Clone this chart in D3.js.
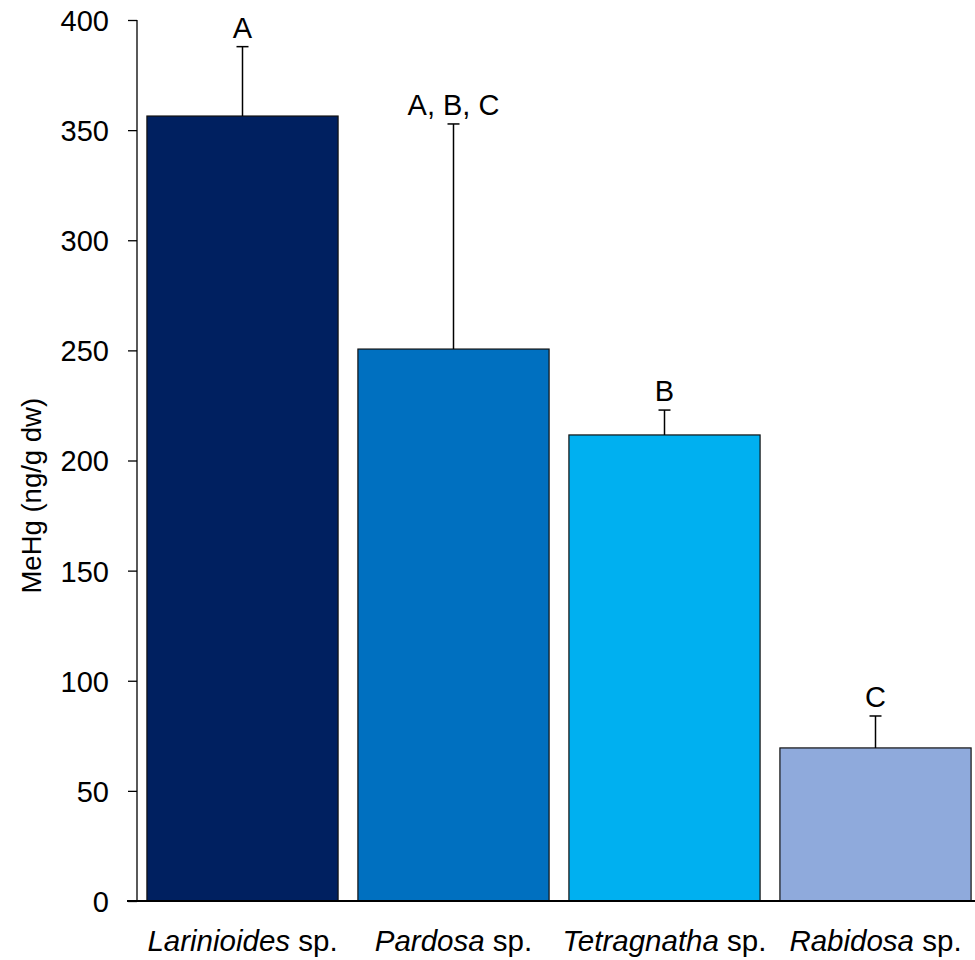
<!DOCTYPE html>
<html>
<head>
<meta charset="utf-8">
<script src="https://cdn.jsdelivr.net/npm/d3@7"></script>
<style>
  body { margin: 0; background: #fff; }
  svg { display: block; font-family: "Liberation Sans", Arial, sans-serif; }
</style>
</head>
<body>
<svg id="chart" width="975" height="960"></svg>
<script>
// species names (italic part) and values
const genus = ["Larinioides", "Pardosa", "Tetragnatha", "Rabidosa"];
const meanMeHg = [356.4, 250.6, 211.6, 69.5];
const errUpper = [387.9, 352.8, 222.9, 84.0];
const groups = ["A", "A, B, C", "B", "C"];
const barColors = ["#002060", "#0070C0", "#00B0F0", "#8FAADC"];
const yTicks = [0, 50, 100, 150, 200, 250, 300, 350, 400];

const svg = d3.select("#chart"),
  margin = { top: 20, right: -6, bottom: 59, left: 137 },
  width = +svg.attr("width"),
  height = +svg.attr("height");

const x = d3
  .scaleBand()
  .domain(genus)
  .range([margin.left, width - margin.right])
  .paddingInner(0.094)
  .paddingOuter(0.047);

const y = d3
  .scaleLinear()
  .domain([0, 400])
  .range([height - margin.bottom, margin.top]);

// bars
svg
  .selectAll("rect.bar")
  .data(genus)
  .join("rect")
  .attr("class", "bar")
  .attr("x", d => x(d))
  .attr("y", (d, i) => y(meanMeHg[i]))
  .attr("width", x.bandwidth())
  .attr("height", (d, i) => y(0) - y(meanMeHg[i]))
  .attr("fill", (d, i) => barColors[i])
  .attr("stroke", "#111")
  .attr("stroke-width", 1.2);

// upper error bars
const err = svg.append("g").attr("stroke", "#000").attr("stroke-width", 1.5);
err
  .selectAll("line.stem")
  .data(genus)
  .join("line")
  .attr("class", "stem")
  .attr("x1", d => x(d) + x.bandwidth() / 2)
  .attr("x2", d => x(d) + x.bandwidth() / 2)
  .attr("y1", (d, i) => y(meanMeHg[i]))
  .attr("y2", (d, i) => y(errUpper[i]));
err
  .selectAll("line.cap")
  .data(genus)
  .join("line")
  .attr("class", "cap")
  .attr("x1", d => x(d) + x.bandwidth() / 2 - 6)
  .attr("x2", d => x(d) + x.bandwidth() / 2 + 6)
  .attr("y1", (d, i) => y(errUpper[i]))
  .attr("y2", (d, i) => y(errUpper[i]));

// significance letters
svg
  .selectAll("text.grp")
  .data(genus)
  .join("text")
  .attr("class", "grp")
  .attr("x", d => x(d) + x.bandwidth() / 2)
  .attr("y", (d, i) => y(errUpper[i]) - 9)
  .attr("text-anchor", "middle")
  .style("font-size", "29px")
  .text((d, i) => groups[i]);

// y axis
const yAxis = svg
  .append("g")
  .attr("transform", "translate(" + margin.left + ",0)")
  .call(d3.axisLeft(y).tickValues(yTicks).tickSize(9).tickPadding(19));
yAxis.select(".domain").attr("stroke", "#000").attr("stroke-width", 1.3)
  .attr("d", "M0," + y(400) + "V" + y(0));
yAxis.selectAll(".tick line").attr("stroke", "#000").attr("stroke-width", 1.3);
yAxis
  .selectAll(".tick text")
  .attr("fill", "#000")
  .attr("dy", "0.36em")
  .style("font-size", "29px")
  .style("font-family", "'Liberation Sans', Arial, sans-serif");

// x axis baseline
svg
  .append("line")
  .attr("x1", margin.left - 10)
  .attr("x2", width)
  .attr("y1", y(0))
  .attr("y2", y(0))
  .attr("stroke", "#000")
  .attr("stroke-width", 2.2);

// category labels: italic genus + " sp."
const cat = svg
  .selectAll("text.cat")
  .data(genus)
  .join("text")
  .attr("class", "cat")
  .attr("x", d => x(d) + x.bandwidth() / 2)
  .attr("y", 951)
  .attr("text-anchor", "middle")
  .style("font-size", "29.5px");
cat.append("tspan").style("font-style", "italic").text(d => d);
cat.append("tspan").text(" sp.");

// y axis title
svg
  .append("text")
  .attr("transform", "translate(41," + y(184) + ") rotate(-90)")
  .attr("text-anchor", "middle")
  .style("font-size", "27.5px")
  .text("MeHg (ng/g dw)");
</script>
</body>
</html>
